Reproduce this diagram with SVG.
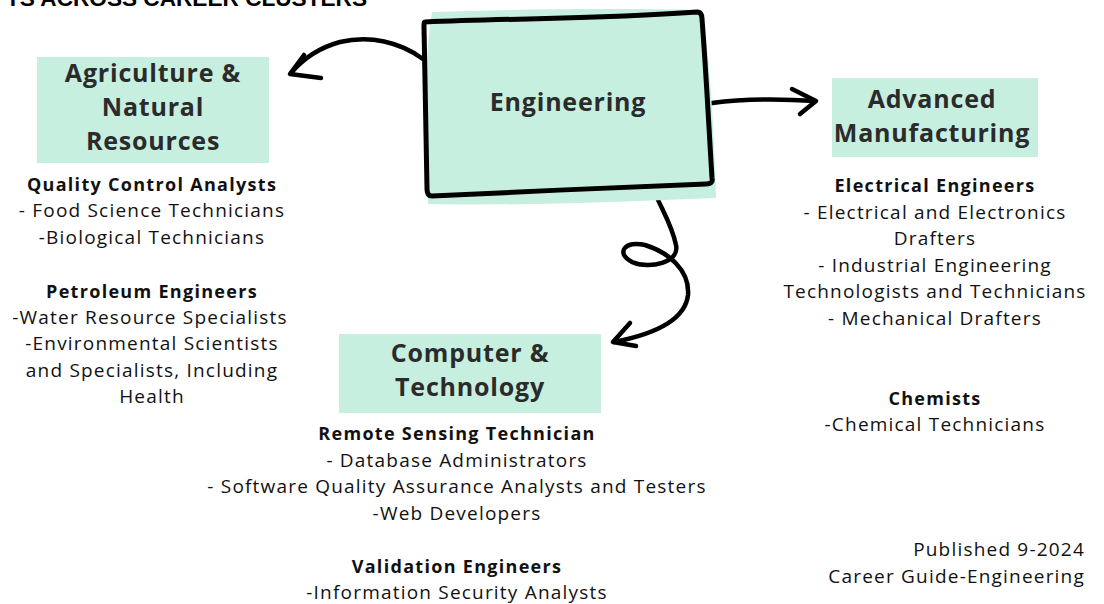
<svg xmlns="http://www.w3.org/2000/svg" width="1104" height="604" viewBox="0 0 1104 604">
<style>
.bg{fill:#ffffff}
.box{fill:#c7efdf}
.ttl{font-family:"Open Sans","Noto Sans",sans-serif;font-weight:700;font-size:25px;letter-spacing:0.8px;fill:#2b2b2b;text-anchor:middle}
.hd{font-family:"Open Sans","Noto Sans",sans-serif;font-weight:700;font-size:18px;letter-spacing:1.3px;fill:#111111;text-anchor:middle}
.tx{font-family:"Open Sans","Noto Sans",sans-serif;font-weight:400;font-size:19px;letter-spacing:1.2px;fill:#111111;text-anchor:middle}
.ft{font-family:"Open Sans","Noto Sans",sans-serif;font-weight:400;font-size:19px;letter-spacing:1.2px;fill:#111111;text-anchor:end}
.top{font-family:"Liberation Sans",Arial,sans-serif;font-weight:700;font-size:22px;fill:#000000}
.ln{fill:none;stroke:#000000;stroke-width:4.5;stroke-linecap:round;stroke-linejoin:round}
</style>
<rect class="bg" x="0" y="0" width="1104" height="604"/>
<text class="top" x="6" y="6" textLength="361" lengthAdjust="spacingAndGlyphs">TS ACROSS CAREER CLUSTERS</text>

<g id="connectors">
  <path class="ln" d="M423,59 C400,42 370,35 340,42 C318,48 302,60 291,73"/>
  <path class="ln" d="M304,55 L290,74 L321,78"/>
  <path class="ln" d="M712,103 C750,98 785,99 815,101"/>
  <path class="ln" d="M792,89 L816,101 L800,114"/>
  <path class="ln" d="M654,191 C662,210 672,225 676,245 C680,262 650,270 632,262 C615,253 625,240 645,245 C668,252 690,270 688,295 C685,322 650,335 614,342"/>
  <path class="ln" d="M630,323 L613,342 L636,346"/>
</g>

<g id="engineering">
  <path class="box" d="M432,12 C520,9 620,8 702,10 C710,60 714,130 716,198 C620,202 520,206 428,204 C424,140 423,70 432,12 Z"/>
  <path fill="none" stroke="#000" stroke-width="5" stroke-linejoin="round" d="M425,22 C520,18 600,19 697,12 C701,12 702,15 702,19 C706,70 709,130 712,178 C713,182 711,184 706,184 C620,187 520,192 432,196 C428,196 427,193 427,189 C426,130 425,80 424,27 C424,24 424,22 425,22 Z"/>
  <text class="ttl" x="568" y="111">Engineering</text>
</g>

<g id="agriculture">
  <rect class="box" x="37" y="57" width="232" height="106"/>
  <text class="ttl" x="153" y="82">Agriculture &amp;</text>
  <text class="ttl" x="153" y="116">Natural</text>
  <text class="ttl" x="153" y="150">Resources</text>
  <text class="hd" x="152" y="191">Quality Control Analysts</text>
  <text class="tx" x="152" y="217">- Food Science Technicians</text>
  <text class="tx" x="152" y="244">-Biological Technicians</text>
  <text class="hd" x="152" y="298">Petroleum Engineers</text>
  <text class="tx" x="150" y="324">-Water Resource Specialists</text>
  <text class="tx" x="152" y="350">-Environmental Scientists</text>
  <text class="tx" x="152" y="377">and Specialists, Including</text>
  <text class="tx" x="152" y="403">Health</text>
</g>

<g id="manufacturing">
  <rect class="box" x="832" y="78" width="206" height="79"/>
  <text class="ttl" x="932" y="108">Advanced</text>
  <text class="ttl" x="932" y="142">Manufacturing</text>
  <text class="hd" x="935" y="192">Electrical Engineers</text>
  <text class="tx" x="935" y="219">- Electrical and Electronics</text>
  <text class="tx" x="935" y="245">Drafters</text>
  <text class="tx" x="935" y="272">- Industrial Engineering</text>
  <text class="tx" x="935" y="298">Technologists and Technicians</text>
  <text class="tx" x="935" y="325">- Mechanical Drafters</text>
  <text class="hd" x="935" y="405">Chemists</text>
  <text class="tx" x="935" y="431">-Chemical Technicians</text>
</g>

<g id="computer">
  <rect class="box" x="339" y="334" width="262" height="79"/>
  <text class="ttl" x="470" y="362">Computer &amp;</text>
  <text class="ttl" x="470" y="396">Technology</text>
  <text class="hd" x="457" y="440">Remote Sensing Technician</text>
  <text class="tx" x="457" y="467">- Database Administrators</text>
  <text class="tx" x="457" y="493">- Software Quality Assurance Analysts and Testers</text>
  <text class="tx" x="457" y="520">-Web Developers</text>
  <text class="hd" x="457" y="573">Validation Engineers</text>
  <text class="tx" x="457" y="599">-Information Security Analysts</text>
</g>

<g id="footer">
  <text class="ft" x="1085" y="556">Published 9-2024</text>
  <text class="ft" x="1085" y="583">Career Guide-Engineering</text>
</g>
</svg>
